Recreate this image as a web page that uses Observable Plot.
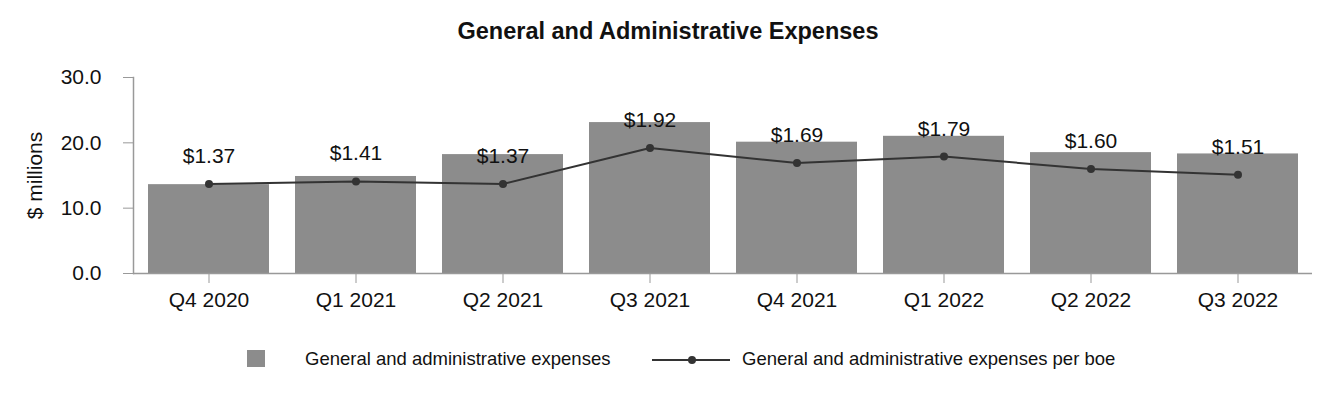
<!DOCTYPE html>
<html>
<head>
<meta charset="utf-8">
<script src="https://cdn.jsdelivr.net/npm/d3@7"></script>
<script src="https://cdn.jsdelivr.net/npm/@observablehq/plot@0.6"></script>
<style>
  html, body { margin: 0; padding: 0; background: #fff; }
  body { width: 1332px; height: 400px; position: relative; font-family: "Liberation Sans", Arial, sans-serif; color: #111; }
  #title { position: absolute; left: 0; top: 0; width: 1336px; height: 62px; line-height: 62px; text-align: center; font-weight: bold; font-size: 23.5px; }
  #chart { position: absolute; left: 0; top: 62px; }
  .leg { position: absolute; top: 346px; height: 26px; line-height: 26px; font-size: 18.5px; white-space: nowrap; }
</style>
</head>
<body>
<div id="title">General and Administrative Expenses</div>
<div id="chart"></div>
<div class="leg" style="left:247px;top:350px;width:18px;height:17px;background:#8c8c8c;"></div>
<div class="leg" style="left:305px;">General and administrative expenses</div>
<svg class="leg" style="left:652px;top:350px;" width="80" height="20"><line x1="0" y1="10" x2="78" y2="10" stroke="#333" stroke-width="2"/><circle cx="40" cy="10" r="4" fill="#333"/></svg>
<div class="leg" style="left:742px;">General and administrative expenses per boe</div>
<script>
const quarters = ["Q4 2020", "Q1 2021", "Q2 2021", "Q3 2021", "Q4 2021", "Q1 2022", "Q2 2022", "Q3 2022"];
const gaExpenses = [13.6, 14.85, 18.2, 23.1, 20.1, 21.0, 18.5, 18.3];
const gaPerBoe = [1.37, 1.41, 1.37, 1.92, 1.69, 1.79, 1.60, 1.51];
const yTicks = [0, 10, 20, 30];

const data = quarters.map((q, i) => ({ q, ga: gaExpenses[i], boe: gaPerBoe[i] }));
// per-boe series is drawn on a secondary scale: $0.00–$3.00 spans the same height as $0–30 million
const boeToPrimary = d => d.boe * 10;

const chart = Plot.plot({
  width: 1332,
  height: 268,
  marginTop: 15,
  marginBottom: 57,
  marginLeft: 133,
  marginRight: 20,
  style: { fontFamily: "Liberation Sans, Arial, sans-serif", fontSize: "21px", color: "#111", background: "#fff" },
  x: { domain: quarters, paddingInner: 0.18, paddingOuter: 0.09 },
  y: { domain: [0, 30] },
  marks: [
    Plot.barY(data, { x: "q", y: "ga", fill: "#8c8c8c" }),
    Plot.ruleY([0], { stroke: "#999", strokeWidth: 1.5 }),
    Plot.frame({ anchor: "left", stroke: "#999", strokeWidth: 1.5 }),
    Plot.axisY({ ticks: yTicks, tickFormat: d3.format(".1f"), tickSize: 10, tickPadding: 22, stroke: "#999",
      label: "$ millions", labelAnchor: "center", labelArrow: "none", labelOffset: 106 }),
    Plot.axisX({ tickSize: 10, tickPadding: 9, stroke: "#999", label: null }),
    Plot.line(data, { x: "q", y: boeToPrimary, stroke: "#333", strokeWidth: 2 }),
    Plot.dot(data, { x: "q", y: boeToPrimary, r: 4, fill: "#333", stroke: "none" }),
    Plot.text(data, { x: "q", y: boeToPrimary, text: d => "$" + d.boe.toFixed(2), lineAnchor: "bottom", dy: -21, fill: "#111", fontSize: 21 })
  ]
});
document.getElementById("chart").appendChild(chart);
</script>
</body>
</html>
